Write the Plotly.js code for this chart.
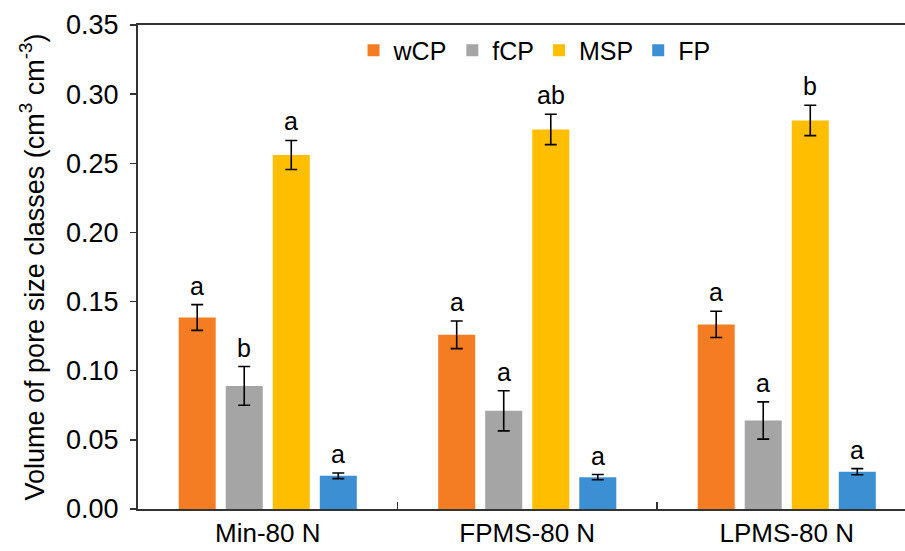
<!DOCTYPE html>
<html>
<head>
<meta charset="utf-8">
<script src="https://cdn.plot.ly/plotly-3.0.1.min.js"></script>
<style>html,body{margin:0;padding:0;background:#fff;}#chart{width:905px;height:551px;}</style>
</head>
<body>
<div id="chart"></div>
<script>
const categories = ["Min-80 N", "FPMS-80 N", "LPMS-80 N"];
const seriesNames = ["wCP", "fCP", "MSP", "FP"];
const wCP = [0.1385, 0.126, 0.1335];
const fCP = [0.089, 0.071, 0.064];
const MSP = [0.256, 0.2745, 0.281];
const FP = [0.024, 0.023, 0.027];
const wCPerr = [0.0093, 0.0100, 0.0095];
const fCPerr = [0.0140, 0.0145, 0.0135];
const MSPerr = [0.0105, 0.0110, 0.0110];
const FPerr = [0.0020, 0.0019, 0.0022];
const wCPletters = ["a", "a", "a"];
const fCPletters = ["b", "a", "a"];
const MSPletters = ["a", "ab", "b"];
const FPletters = ["a", "a", "a"];

const colors = ["#F47C22", "#A5A5A5", "#FFBF00", "#3D8FD4"];
const values = [wCP, fCP, MSP, FP];
const errs = [wCPerr, fCPerr, MSPerr, FPerr];
const letters = [wCPletters, fCPletters, MSPletters, FPletters];

const font = "Arial, 'Liberation Sans', sans-serif";
const bargap = 0.275;
const plotLeft = 138, plotWidth = 905 - 138;
const catPx = 259.5;
const xmax = -0.5 + plotWidth / catPx;
const slotPx = catPx * (1 - bargap) / 4;

const traces = values.map((v, i) => ({
  type: "bar",
  name: seriesNames[i],
  x: categories,
  y: v,
  marker: {color: colors[i]},
  error_y: {type: "data", array: errs[i], visible: true, color: "#000", thickness: 1.6, width: 6},
  hoverinfo: "skip"
}));

const annotations = [];
values.forEach((v, i) => {
  v.forEach((val, j) => {
    annotations.push({
      x: categories[j], y: val + errs[i][j], xref: "x", yref: "y",
      text: letters[i][j], showarrow: false, yanchor: "bottom",
      xshift: (i - 1.5) * slotPx, yshift: 3,
      font: {family: font, size: 25, color: "#000"}
    });
  });
});

const layout = {
  width: 905, height: 551,
  margin: {l: plotLeft, r: 0, t: 25, b: 42, pad: 0},
  paper_bgcolor: "#fff", plot_bgcolor: "#fff",
  barmode: "group", bargap: bargap, bargroupgap: 0.213,
  font: {family: font, size: 27, color: "#000"},
  showlegend: true,
  legend: {orientation: "h", x: 0.517, xanchor: "center", y: 0.995, yanchor: "top",
           font: {family: font, size: 25, color: "#000"}, itemwidth: 30, tracegroupgap: 0,
           bgcolor: "rgba(0,0,0,0)"},
  xaxis: {
    type: "category", range: [-0.5, xmax], showline: true, linecolor: "#333", linewidth: 2,
    mirror: true, ticks: "inside", tickson: "boundaries", ticklen: 7, tickcolor: "#333", tickwidth: 1.5,
    showgrid: false, zeroline: false, tickfont: {family: font, size: 26, color: "#000"}
  },
  yaxis: {
    range: [0, 0.35], dtick: 0.05, tickformat: ".2f", showline: true, linecolor: "#333", linewidth: 2,
    ticks: "outside", ticklen: 6, tickcolor: "#333", tickwidth: 1.5, showgrid: false, zeroline: false,
    ticklabelstandoff: 6,
    tickfont: {family: font, size: 27, color: "#000"},
    title: {text: "Volume of pore size classes (cm<sup>3</sup> cm<sup>-3</sup>)", standoff: 14,
            font: {family: font, size: 27, color: "#000"}}
  },
  annotations: annotations
};

Plotly.newPlot("chart", traces, layout, {displayModeBar: false, staticPlot: true});
</script>
</body>
</html>
